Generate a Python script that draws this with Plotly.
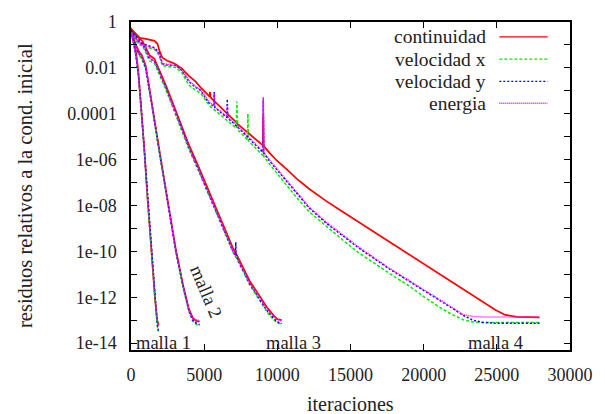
import numpy as np
import plotly.graph_objects as go

# Residuals (log10 of the residual relative to the initial condition) per mesh.
# Each mesh shares one iteration grid for its four equations.

# ---- malla 1 ----
it_m1 = [0, 60, 150, 250, 350, 500, 670, 900, 1140, 1400, 1640, 1790, 1850, 1890]
cont_m1 = [-0.25, -0.45, -0.65, -1.0, -1.35, -2.15, -3.45, -5.45, -7.75, -10.05, -12.05, -13.0, -13.15, -13.2]
velx_m1 = [-0.4, -0.55, -0.85, -1.2, -1.55, -2.3, -3.55, -5.55, -7.85, -10.15, -12.15, -13.2, -13.45, -13.5]
vely_m1 = [-0.35, -0.6, -0.8, -1.1, -1.5, -2.25, -3.5, -5.5, -7.8, -10.1, -12.1, -13.15, -13.4, -13.45]
ener_m1 = [-0.45, -0.7, -0.9, -1.2, -1.45, -2.2, -3.5, -5.5, -7.8, -10.1, -12.1, -13.05, -13.2, -13.25]

# ---- malla 2 ----
it_m2 = [0, 150, 335, 550, 740, 1000, 1270, 1400, 1940, 2480, 3060, 3550, 3950, 4220, 4490, 4690]
cont_m2 = [-0.3, -0.6, -1.0, -1.3, -1.45, -1.9, -2.85, -3.45, -5.6, -7.75, -9.9, -11.45, -12.5, -12.9, -13.05, -13.05]
velx_m2 = [-0.45, -0.8, -1.2, -1.45, -1.6, -2.05, -2.95, -3.55, -5.7, -7.85, -10.0, -11.55, -12.6, -13.05, -13.2, -13.25]
vely_m2 = [-0.4, -0.75, -1.15, -1.4, -1.55, -2.0, -2.9, -3.5, -5.66, -7.82, -9.98, -11.5, -12.58, -13.0, -13.15, -13.2]
ener_m2 = [-0.5, -0.85, -1.1, -1.35, -1.5, -1.95, -2.9, -3.5, -5.66, -7.82, -9.98, -11.5, -12.55, -12.9, -13.0, -13.0]

# ---- malla 3 ----
it_m3 = [0, 300, 800, 1270, 1600, 1810, 2410, 3200, 3950, 4620, 5800, 6960, 7130, 7160, 7190,
         8100, 8840, 9300, 9760, 10000, 10300]
cont_m3 = [-0.3, -0.55, -0.85, -1.45, -1.6, -1.9, -2.8, -4.1, -5.35, -6.32, -8.12, -9.85, -10.05, -10.08, -10.1,
           -11.28, -12.02, -12.45, -12.8, -12.95, -13.0]
velx_m3 = [-0.4, -0.7, -1.05, -1.7, -1.8, -2.1, -3.0, -4.3, -5.55, -6.5, -8.3, -10.03, -10.23, -10.26, -10.28,
           -11.45, -12.2, -12.65, -13.0, -13.12, -13.18]
vely_m3 = [-0.35, -0.6, -0.95, -1.6, -1.7, -2.0, -2.9, -4.2, -5.45, -6.44, -8.25, -9.98, -10.18, -9.6, -10.22,
           -11.4, -12.14, -12.58, -12.92, -13.08, -13.15]
ener_m3 = [-0.45, -0.65, -1.0, -1.55, -1.7, -2.0, -2.9, -4.2, -5.45, -6.42, -8.22, -9.95, -10.15, -10.18, -10.2,
           -11.37, -12.1, -12.52, -12.85, -12.98, -13.02]

# ---- malla 4 ----
it_m4 = [0, 300, 603, 1100, 1607, 1808, 1942, 2143, 2478, 2812, 3080, 3482, 3951, 4420, 4754, 5290,
         5370, 5400, 5430,
         5660, 5690, 5720,
         6550, 6580, 6610,
         7200, 7230, 7260,
         7300,
         7960, 7990, 8020,
         8973, 9010, 9040, 9070,
         9500, 9977, 10647, 11316, 12187, 13325, 14463, 15535, 17543, 18012, 19000, 20020, 21000, 21830,
         22700, 23370, 24040, 24370, 24910, 25580, 26380, 27920]
cont_m4 = [-0.3, -0.5, -0.69, -0.75, -0.82, -0.95, -1.25, -1.56, -1.69, -1.77, -1.85, -2.03, -2.35, -2.6, -2.85, -3.2,
           -3.25, -3.05, -3.29,
           -3.43, -3.45, -3.47,
           -3.98, -4.0, -4.02,
           -4.38, -4.4, -4.43,
           -4.45,
           -4.81, -4.82, -4.84,
           -5.36, -5.38, -4.0, -5.41,
           -5.73, -6.05, -6.43, -6.83, -7.28, -7.8, -8.27, -8.71, -9.55, -9.75, -10.15, -10.57, -10.96, -11.3,
           -11.65, -11.93, -12.2, -12.34, -12.56, -12.77, -12.86, -12.88]
velx_m4 = [-0.45, -0.8, -1.0, -1.1, -1.2, -1.35, -1.5, -1.9, -1.95, -1.97, -1.98, -2.22, -2.75, -2.98, -3.1, -3.62,
           -3.66, -3.68, -3.69,
           -3.81, -3.83, -3.84,
           -4.28, -4.3, -4.31,
           -4.63, -3.47, -4.67,
           -4.7,
           -5.14, -4.0, -5.18,
           -5.8, -5.82, -5.2, -5.86,
           -6.22, -6.6, -7.1, -7.65, -8.28, -8.9, -9.5, -10.05, -10.92, -11.11, -11.5, -11.98, -12.4, -12.72,
           -12.98, -13.08, -13.1, -13.1, -13.1, -13.1, -13.1, -13.1]
vely_m4 = [-0.4, -0.7, -0.91, -1.0, -1.12, -1.25, -1.38, -1.82, -1.88, -1.9, -1.9, -2.12, -2.6, -2.85, -2.98, -3.5,
           -3.54, -3.56, -3.57,
           -3.69, -3.05, -3.72,
           -4.16, -3.36, -4.19,
           -4.52, -4.54, -4.56,
           -4.58,
           -5.01, -5.03, -5.05,
           -5.66, -5.68, -3.4, -5.72,
           -6.08, -6.45, -6.93, -7.47, -8.12, -8.76, -9.32, -9.84, -10.72, -10.9, -11.3, -11.71, -12.08, -12.43,
           -12.79, -13.0, -13.1, -13.12, -13.13, -13.14, -13.14, -13.14]
ener_m4 = [-0.5, -0.75, -0.95, -1.05, -1.15, -1.3, -1.45, -1.8, -1.85, -1.88, -1.9, -2.1, -2.55, -2.82, -2.96, -3.46,
           -3.5, -3.52, -3.53,
           -3.65, -3.1, -3.68,
           -4.12, -3.6, -4.15,
           -4.48, -4.5, -4.52,
           -4.54,
           -4.97, -4.99, -5.01,
           -5.62, -5.64, -3.28, -5.68,
           -6.04, -6.4, -6.88, -7.42, -8.07, -8.72, -9.28, -9.8, -10.69, -10.87, -11.27, -11.68, -12.05, -12.4,
           -12.76, -12.84, -12.86, -12.86, -12.87, -12.87, -12.87, -12.87]

iterations = [it_m1, it_m2, it_m3, it_m4]
series = {
    "continuidad": [cont_m1, cont_m2, cont_m3, cont_m4],
    "velocidad x": [velx_m1, velx_m2, velx_m3, velx_m4],
    "velocidad y": [vely_m1, vely_m2, vely_m3, vely_m4],
    "energia": [ener_m1, ener_m2, ener_m3, ener_m4],
}

mesh_labels = ["malla 1", "malla 2", "malla 3", "malla 4"]
mesh_label_pos = [(2243, -14.0), (5120, -11.78), (11080, -14.0), (24940, -14.0)]
mesh_label_angle = [0, 67, 0, 0]

y_decades = list(range(0, -15, -1))
y_ticktext = ["1" if d == 0 else ("" if d % 2 else f"{10.0**d:g}") for d in y_decades]
x_ticks = [0, 5000, 10000, 15000, 20000, 25000, 30000]

styles = {
    "continuidad": dict(color="#ff0000", width=1.7, dash="solid"),
    "velocidad x": dict(color="#00ee00", width=1.5, dash="3px,2px"),
    "velocidad y": dict(color="#0000ff", width=1.5, dash="2px,2px"),
    "energia": dict(color="#ff00ff", width=1.5, dash="1px,1px"),
}

FONT = "Liberation Serif"
TXT = "#222222"

fig = go.Figure()
for name, meshes in series.items():
    xs, ys = [], []
    for its, vals in zip(iterations, meshes):
        xs += list(its) + [None]
        ys += list(np.power(10.0, vals)) + [None]
    fig.add_trace(go.Scatter(x=xs, y=ys, mode="lines", name=name,
                             line=styles[name], connectgaps=False, showlegend=False))

# key: text right-aligned, line sample to its right
key_rows = [0.9547, 0.8867, 0.8187, 0.7523]
shapes = []
annotations = []
for (name, st), yk in zip(styles.items(), key_rows):
    annotations.append(dict(x=0.8125, y=yk, xref="paper", yref="paper", text=name,
                            showarrow=False, xanchor="right", yanchor="middle",
                            font=dict(family=FONT, size=19.5, color=TXT)))
    shapes.append(dict(type="line", xref="paper", yref="paper", x0=0.839, x1=0.949,
                       y0=yk, y1=yk, line=dict(color=st["color"], width=1.3, dash=st["dash"])))

for lab, (xv, yv), ang in zip(mesh_labels, mesh_label_pos, mesh_label_angle):
    annotations.append(dict(x=xv, y=yv, xref="x", yref="y", text=lab, showarrow=False,
                            textangle=ang, xanchor="center", yanchor="middle",
                            font=dict(family=FONT, size=18.5, color=TXT)))

# axis titles
annotations.append(dict(x=0.5, y=0, xref="paper", yref="paper", text="iteraciones",
                        showarrow=False, xanchor="center", yanchor="middle", yshift=-54,
                        font=dict(family=FONT, size=20, color=TXT)))
annotations.append(dict(x=0, y=0.5, xref="paper", yref="paper",
                        text="residuos relativos a la cond. inicial",
                        showarrow=False, xanchor="center", yanchor="middle", xshift=-106,
                        textangle=-90, font=dict(family=FONT, size=20.5, color=TXT)))

fig.update_layout(
    width=605, height=414,
    margin=dict(l=131, r=26, t=19, b=64),
    paper_bgcolor="white", plot_bgcolor="white",
    font=dict(family=FONT, size=18, color=TXT),
    shapes=shapes, annotations=annotations,
    showlegend=False,
)
fig.update_xaxes(range=[0, 30000], tickvals=x_ticks, ticktext=[str(v) for v in x_ticks],
                 ticks="inside", ticklen=6, tickwidth=1, tickcolor="black",
                 showline=True, linecolor="black", linewidth=1.5, mirror="ticks",
                 showgrid=False, zeroline=False, ticklabelstandoff=8,
                 tickfont=dict(family=FONT, size=18, color=TXT))
fig.update_yaxes(type="log", range=[np.log10(5e-15), 0],
                 tickvals=[10.0 ** d for d in y_decades], ticktext=y_ticktext,
                 ticks="inside", ticklen=6, tickwidth=1, tickcolor="black",
                 showline=True, linecolor="black", linewidth=1.5, mirror="ticks",
                 showgrid=False, zeroline=False, ticklabelstandoff=9,
                 tickfont=dict(family=FONT, size=18, color=TXT))

fig.write_html("out.html")
